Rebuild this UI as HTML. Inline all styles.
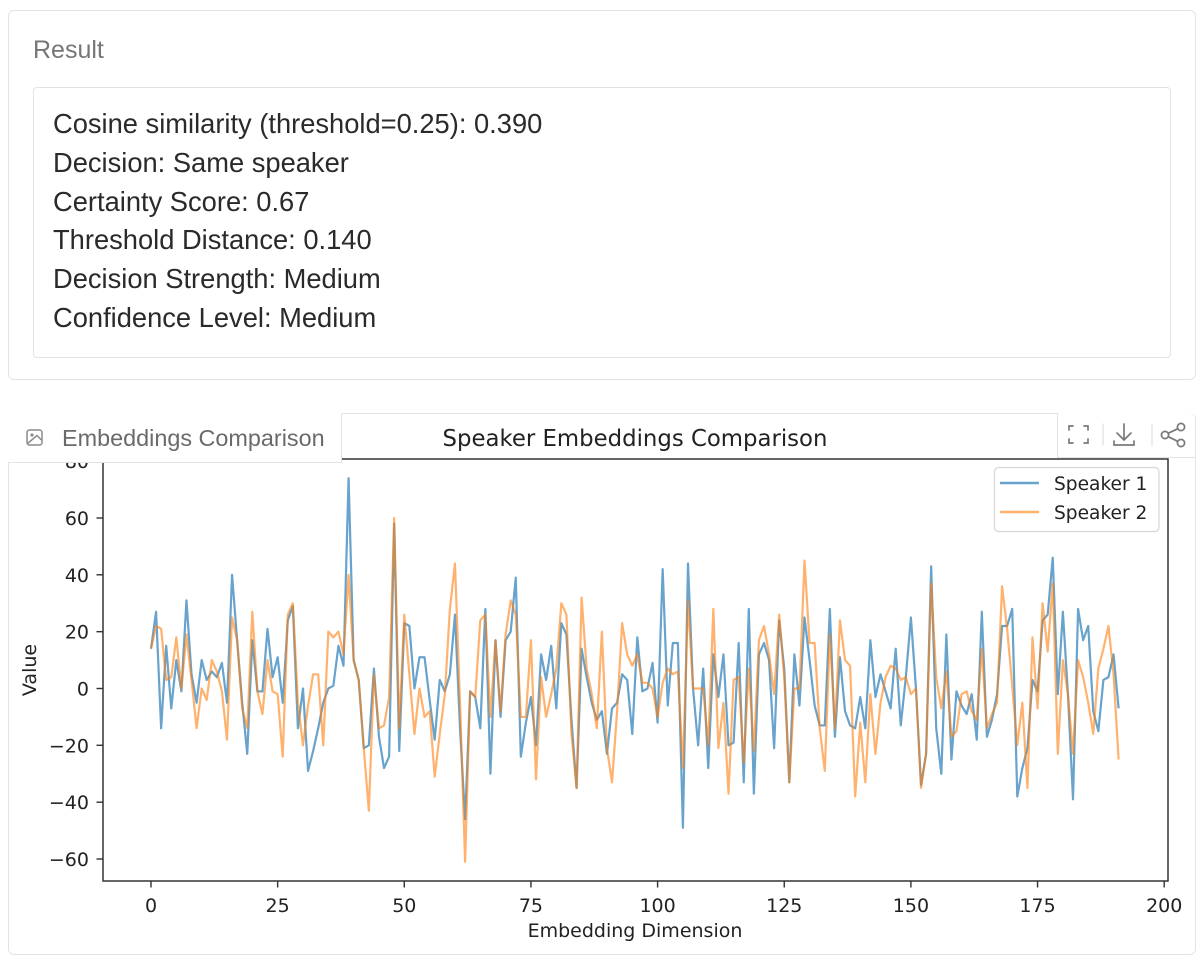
<!DOCTYPE html>
<html>
<head>
<meta charset="utf-8">
<style>
  html, body { margin:0; padding:0; background:#fff; }
  body { width:1200px; height:960px; position:relative; overflow:hidden; font-family:"Liberation Sans", sans-serif; }
  .card { position:absolute; border:1px solid #e3e3e3; border-radius:6px; background:#fff; box-sizing:border-box; }
  .lbl { position:absolute; left:33px; top:35px; font-size:25px; line-height:30px; color:#767676; }
  .inner { position:absolute; left:33px; top:87px; width:1138px; height:271px; border:1px solid #e3e3e3; border-radius:4px; box-sizing:border-box; }
  .lines { position:absolute; left:53px; top:105px; font-size:27.3px; line-height:38.8px; color:#2a2a2a; white-space:nowrap; }
  .tab { position:absolute; left:8px; top:413px; width:334px; height:50px; box-sizing:border-box; border-right:1px solid #e3e3e3; border-bottom:1px solid #e3e3e3; border-top-left-radius:6px; background:#fff; }
  .tab span { position:absolute; left:54px; top:11px; font-size:23.4px; line-height:28px; color:#6a6a6a; white-space:nowrap; }
  .icons { position:absolute; left:1057px; top:413px; width:138px; height:45px; box-sizing:border-box; border-left:1px solid #e3e3e3; border-bottom:1px solid #e3e3e3; border-top-right-radius:6px; background:#fff; }
</style>
</head>
<body>

<div class="card" style="left:8px;top:10px;width:1188px;height:370px;"></div>
<div class="lbl">Result</div>
<div class="inner"></div>
<div class="lines">
Cosine similarity (threshold=0.25): 0.390<br>
Decision: Same speaker<br>
Certainty Score: 0.67<br>
Threshold Distance: 0.140<br>
Decision Strength: Medium<br>
Confidence Level: Medium
</div>

<div class="card" style="left:8px;top:413px;width:1188px;height:542px;"></div>

<svg width="1200" height="960" style="position:absolute;left:0;top:0;" xmlns="http://www.w3.org/2000/svg">
  <g font-family="DejaVu Sans, sans-serif" fill="#222">
    <text x="635" y="446" font-size="22.8" text-anchor="middle">Speaker Embeddings Comparison</text>

    <g transform="translate(151,688.5) scale(5.066,-2.842)" fill="none" stroke-linejoin="round" stroke-linecap="butt">
      <polyline vector-effect="non-scaling-stroke" stroke="#1f77b4" stroke-opacity="0.68" stroke-width="2.2"
        points="0,14 1,27 2,-14 3,15 4,-7 5,10 6,-1 7,31 8,5 9,-5 10,10 11,3 12,6 13,4 14,9 15,-5 16,40 17,17 18,-5 19,-23 20,17 21,-1 22,-1 23,21 24,4 25,11 26,-5 27,24 28,29 29,-14 30,0 31,-29 32,-22 33,-14 34,-5 35,0 36,1 37,15 38,8 39,74 40,10 41,3 42,-21 43,-20 44,7 45,-17 46,-28 47,-24 48,58 49,-22 50,23 51,22 52,0 53,11 54,11 55,-4 56,-18 57,3 58,-1 59,5 60,26 61,-14 62,-46 63,-1 64,-3 65,-14 66,28 67,-30 68,17 69,-10 70,17 71,20 72,39 73,-24 74,-12 75,-3 76,-20 77,12 78,3 79,15 80,-7 81,23 82,19 83,-11 84,-35 85,14 86,4 87,-5 88,-11 89,-8 90,-23 91,-7 92,-5 93,5 94,3 95,-16 96,18 97,-1 98,0 99,9 100,-12 101,42 102,-6 103,16 104,16 105,-49 106,44 107,0 108,-20 109,7 110,-28 111,12 112,-3 113,12 114,-20 115,-19 116,16 117,-33 118,28 119,-37 120,12 121,16 122,10 123,-21 124,24 125,7 126,-33 127,12 128,-6 129,25 130,10 131,-6 132,-13 133,-13 134,28 135,-17 136,11 137,-8 138,-13 139,-14 140,-3 141,-14 142,17 143,-3 144,5 145,-1 146,-7 147,14 148,-13 149,4 150,25 151,0 152,-34 153,-23 154,43 155,-14 156,-30 157,19 158,-25 159,-1 160,-6 161,-9 162,-2 163,-18 164,27 165,-17 166,-11 167,-2 168,22 169,22 170,28 171,-38 172,-28 173,-21 174,3 175,-1 176,24 177,26 178,46 179,-2 180,27 181,-2 182,-39 183,28 184,17 185,22 186,-8 187,-15 188,3 189,4 190,12 191,-7"/>
      <polyline vector-effect="non-scaling-stroke" stroke="#ff7f0e" stroke-opacity="0.6" stroke-width="2.2"
        points="0,14 1,22 2,21 3,3 4,4 5,18 6,0 7,19 8,3 9,-14 10,0 11,-4 12,10 13,6 14,-1 15,-18 16,25 17,17 18,-7 19,-14 20,27 21,-1 22,-9 23,10 24,-1 25,-2 26,-24 27,26 28,30 29,-5 30,-20 31,-6 32,5 33,5 34,-20 35,20 36,18 37,20 38,12 39,40 40,10 41,3 42,-21 43,-43 44,5 45,-14 46,-13 47,-3 48,60 49,-14 50,26 51,5 52,-16 53,0 54,-10 55,-8 56,-31 57,-16 58,-2 59,28 60,44 61,-5 62,-61 63,-1 64,-3 65,24 66,26 67,-10 68,17 69,-8 70,19 71,31 72,26 73,-10 74,-10 75,17 76,-32 77,4 78,-10 79,-2 80,7 81,30 82,26 83,-16 84,-35 85,32 86,7 87,-2 88,-14 89,20 90,-21 91,-33 92,-8 93,23 94,12 95,8 96,12 97,2 98,2 99,0 100,-10 101,2 102,7 103,5 104,6 105,-28 106,31 107,0 108,0 109,0 110,-20 111,28 112,-21 113,-5 114,-37 115,3 116,4 117,-26 118,7 119,-22 120,17 121,22 122,12 123,-2 124,26 125,4 126,-33 127,0 128,0 129,45 130,16 131,16 132,-14 133,-29 134,19 135,-14 136,24 137,10 138,8 139,-38 140,-12 141,-33 142,-2 143,-23 144,-5 145,4 146,8 147,7 148,3 149,4 150,-2 151,0 152,-35 153,-23 154,37 155,4 156,-7 157,6 158,-17 159,-15 160,-2 161,-1 162,-8 163,-11 164,14 165,-14 166,-9 167,-5 168,36 169,21 170,1 171,-20 172,-5 173,-35 174,18 175,-7 176,30 177,13 178,37 179,-23 180,10 181,-2 182,-23 183,10 184,4 185,-5 186,-16 187,7 188,14 189,22 190,5 191,-25"/>
    </g>

    <rect x="103" y="459" width="1065" height="422" fill="none" stroke="#333" stroke-width="1.5"/>

    <g stroke="#333" stroke-width="1.4">
      <line x1="96.5" y1="461.1" x2="103" y2="461.1"/>
      <line x1="96.5" y1="518" x2="103" y2="518"/>
      <line x1="96.5" y1="574.8" x2="103" y2="574.8"/>
      <line x1="96.5" y1="631.7" x2="103" y2="631.7"/>
      <line x1="96.5" y1="688.5" x2="103" y2="688.5"/>
      <line x1="96.5" y1="745.3" x2="103" y2="745.3"/>
      <line x1="96.5" y1="802.2" x2="103" y2="802.2"/>
      <line x1="96.5" y1="859" x2="103" y2="859"/>
    </g>
    <g font-size="19" text-anchor="end">
      <text x="89" y="468">80</text>
      <text x="89" y="525">60</text>
      <text x="89" y="582">40</text>
      <text x="89" y="638.7">20</text>
      <text x="89" y="695.5">0</text>
      <text x="89" y="752.3">−20</text>
      <text x="89" y="809.2">−40</text>
      <text x="89" y="866">−60</text>
    </g>

    <g stroke="#333" stroke-width="1.4">
      <line x1="151" y1="881" x2="151" y2="887.5"/>
      <line x1="277.65" y1="881" x2="277.65" y2="887.5"/>
      <line x1="404.3" y1="881" x2="404.3" y2="887.5"/>
      <line x1="530.95" y1="881" x2="530.95" y2="887.5"/>
      <line x1="657.6" y1="881" x2="657.6" y2="887.5"/>
      <line x1="784.25" y1="881" x2="784.25" y2="887.5"/>
      <line x1="910.9" y1="881" x2="910.9" y2="887.5"/>
      <line x1="1037.55" y1="881" x2="1037.55" y2="887.5"/>
      <line x1="1164.2" y1="881" x2="1164.2" y2="887.5"/>
    </g>
    <g font-size="19" text-anchor="middle">
      <text x="151" y="912">0</text>
      <text x="277.65" y="912">25</text>
      <text x="404.3" y="912">50</text>
      <text x="530.95" y="912">75</text>
      <text x="657.6" y="912">100</text>
      <text x="784.25" y="912">125</text>
      <text x="910.9" y="912">150</text>
      <text x="1037.55" y="912">175</text>
      <text x="1164.2" y="912">200</text>
    </g>

    <text x="635" y="937" font-size="19" text-anchor="middle">Embedding Dimension</text>
    <text transform="translate(36,670) rotate(-90)" font-size="19" text-anchor="middle">Value</text>

    <rect x="994.5" y="467.5" width="164.5" height="64" rx="4" ry="4" fill="#fff" fill-opacity="0.85" stroke="#d6d6d6" stroke-width="1.2"/>
    <line x1="1000" y1="483" x2="1039" y2="483" stroke="#1f77b4" stroke-opacity="0.68" stroke-width="2.4"/>
    <line x1="1000" y1="512" x2="1039" y2="512" stroke="#ff7f0e" stroke-opacity="0.6" stroke-width="2.4"/>
    <text x="1054" y="490" font-size="18.6">Speaker 1</text>
    <text x="1054" y="519" font-size="18.6">Speaker 2</text>
  </g>
</svg>

<div class="tab">
  <svg width="20" height="20" style="position:absolute;left:17px;top:15px;" viewBox="0 0 20 20">
    <rect x="2" y="2" width="15" height="15" rx="2.5" fill="none" stroke="#8a8a8a" stroke-width="1.5"/>
    <circle cx="7" cy="7" r="1.6" fill="#8a8a8a"/>
    <path d="M2.5 15.5 L12 7.5 L16.5 12" fill="none" stroke="#8a8a8a" stroke-width="1.5"/>
  </svg>
  <span>Embeddings Comparison</span>
</div>

<div class="icons">
  <svg width="138" height="45" style="position:absolute;left:-1px;top:0;" viewBox="0 0 138 45">
    <g fill="none" stroke="#7a7a7a" stroke-width="1.7" stroke-linecap="round">
      <path d="M12 17 V13 H16 M27 13 H31 V17 M31 26 V30 H27 M16 30 H12 V26"/>
      <line x1="46" y1="11" x2="46" y2="32" stroke="#e0e0e0" stroke-width="1.2"/>
      <path d="M67 11 V27 M60 20 L67 27 L74 20 M57 28 V32 H77 V28"/>
      <line x1="95" y1="11" x2="95" y2="32" stroke="#e0e0e0" stroke-width="1.2"/>
      <circle cx="124" cy="14" r="3.6"/>
      <circle cx="108" cy="22" r="3.6"/>
      <circle cx="124" cy="30" r="3.6"/>
      <line x1="111.2" y1="20.3" x2="120.8" y2="15.7"/>
      <line x1="111.2" y1="23.7" x2="120.8" y2="28.3"/>
    </g>
  </svg>
</div>

</body>
</html>
